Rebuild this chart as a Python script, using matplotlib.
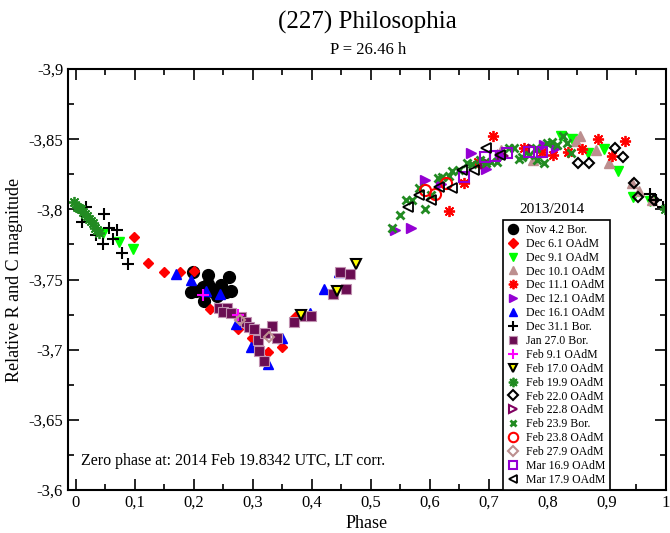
import matplotlib
matplotlib.use('Agg')
import matplotlib.pyplot as plt
from matplotlib.ticker import MultipleLocator, FuncFormatter

plt.rcParams['font.family'] = ['Liberation Serif', 'DejaVu Serif']

# phase / relative magnitude for each session
nov04_ph = [0.195, 0.203, 0.215, 0.223, 0.230, 0.239, 0.245, 0.254, 0.259, 0.262, 0.217, 0.198, 0.223]
nov04_mag = [-3.741, -3.742, -3.745, -3.747, -3.742, -3.738, -3.746, -3.741, -3.752, -3.742, -3.735, -3.755, -3.753]

dec06_ph = [0.098, 0.122, 0.149, 0.176, 0.200, 0.227, 0.274, 0.299, 0.325, 0.350, 0.372]
dec06_mag = [-3.780, -3.762, -3.755, -3.755, -3.756, -3.729, -3.715, -3.708, -3.698, -3.702, -3.723]

dec09_ph = [0.046, 0.073, 0.096, 0.822, 0.841, 0.868, 0.895, 0.919, 0.944, 0.973]
dec09_mag = [-3.783, -3.777, -3.772, -3.852, -3.850, -3.840, -3.843, -3.827, -3.809, -3.806]

dec10_ph = [0.721, 0.775, 0.848, 0.854, 0.882, 0.904, 0.942, 0.954, 0.976]
dec10_mag = [-3.842, -3.835, -3.849, -3.852, -3.842, -3.833, -3.819, -3.813, -3.807]

dec11_ph = [0.633, 0.658, 0.682, 0.707, 0.760, 0.790, 0.809, 0.834, 0.858, 0.885, 0.909, 0.931]
dec11_mag = [-3.799, -3.819, -3.834, -3.852, -3.844, -3.841, -3.839, -3.841, -3.843, -3.850, -3.838, -3.849]

dec12_ph = [0.541, 0.567, 0.592, 0.618, 0.670, 0.695, 0.719, 0.794, 0.814]
dec12_mag = [-3.785, -3.787, -3.821, -3.818, -3.840, -3.829, -3.839, -3.846, -3.844]

dec16_ph = [0.169, 0.195, 0.220, 0.244, 0.272, 0.296, 0.325, 0.349, 0.396, 0.420, 0.445]
dec16_mag = [-3.754, -3.750, -3.742, -3.740, -3.718, -3.702, -3.690, -3.708, -3.726, -3.743, -3.755]

dec31_ph = [0.017, 0.047, 0.010, 0.056, 0.069, 0.063, 0.046, 0.078, 0.088, 0.034, 0.973, 0.983, 0.995]
dec31_mag = [-3.802, -3.797, -3.791, -3.787, -3.785, -3.779, -3.775, -3.769, -3.761, -3.782, -3.811, -3.807, -3.802]

jan27_ph = [0.242, 0.256, 0.249, 0.262, 0.279, 0.288, 0.294, 0.301, 0.308, 0.333, 0.340, 0.311,
            0.318, 0.369, 0.389, 0.398, 0.435, 0.457, 0.447, 0.464, 0.321]
jan27_mag = [-3.730, -3.730, -3.727, -3.726, -3.723, -3.720, -3.716, -3.715, -3.707, -3.717, -3.708, -3.699,
             -3.692, -3.720, -3.724, -3.724, -3.740, -3.743, -3.755, -3.754, -3.712]

feb09_ph = [0.215, 0.274]
feb09_mag = [-3.739, -3.725]

feb17_ph = [0.381, 0.443, 0.475]
feb17_mag = [-3.725, -3.742, -3.761]

feb19_ph = [-0.003, 0.002, 0.005, 0.008, 0.012, 0.015, 0.019, 0.022, 0.025, 0.029, 0.032, 0.036, 0.039, 0.998]
feb19_mag = [-3.805, -3.802, -3.801, -3.800, -3.798, -3.797, -3.795, -3.793, -3.792, -3.790, -3.787, -3.785, -3.783, -3.800]

feb22_ph = [0.851, 0.870, 0.914, 0.927, 0.946, 0.953, 0.980]
feb22_mag = [-3.833, -3.833, -3.844, -3.837, -3.819, -3.809, -3.807]

feb228_ph = [0.695, 0.723, 0.777]
feb228_mag = [-3.833, -3.838, -3.842]

feb239_ph = [0.536, 0.550, 0.560, 0.570, 0.582, 0.591, 0.602, 0.614, 0.621, 0.633, 0.638, 0.650,
             0.662, 0.672, 0.684, 0.695, 0.704, 0.714, 0.734, 0.743, 0.751, 0.756, 0.768, 0.780,
             0.782, 0.794, 0.799, 0.807, 0.816, 0.826, 0.832, 0.839]
feb239_mag = [-3.787, -3.796, -3.807, -3.807, -3.815, -3.800, -3.810, -3.822, -3.823, -3.824, -3.827, -3.828,
              -3.833, -3.832, -3.835, -3.833, -3.834, -3.834, -3.844, -3.844, -3.836, -3.837, -3.839, -3.844,
              -3.835, -3.833, -3.847, -3.848, -3.846, -3.852, -3.847, -3.840]

feb238_ph = [0.592, 0.609, 0.628]
feb238_mag = [-3.814, -3.811, -3.819]

feb27_ph = [0.278, 0.327]
feb27_mag = [-3.721, -3.709]

mar16_ph = [0.658, 0.694, 0.711, 0.731, 0.768, 0.790]
mar16_mag = [-3.823, -3.837, -3.838, -3.840, -3.841, -3.841]

mar17_ph = [0.562, 0.582, 0.601, 0.616, 0.638, 0.655, 0.675, 0.695, 0.719]
mar17_mag = [-3.802, -3.810, -3.807, -3.816, -3.815, -3.828, -3.828, -3.844, -3.839]

fig = plt.figure(figsize=(6.7, 5.33), dpi=100)
ax = fig.add_axes([0.1015, 0.0807, 0.8925, 0.7898])

star = (8, 2, 0)
series = [
    ("Nov 4.2 Bor.", nov04_ph, nov04_mag, dict(marker='o', color='black', ms=8.5)),
    ("Dec 6.1 OAdM", dec06_ph, dec06_mag, dict(marker='D', color='red', ms=5.5)),
    ("Dec 9.1 OAdM", dec09_ph, dec09_mag, dict(marker='v', color='#00ff00', ms=7)),
    ("Dec 10.1 OAdM", dec10_ph, dec10_mag, dict(marker='^', color='#bc8f8f', ms=7)),
    ("Dec 11.1 OAdM", dec11_ph, dec11_mag, dict(marker=star, color='red', ms=8, mew=1.3)),
    ("Dec 12.1 OAdM", dec12_ph, dec12_mag, dict(marker='>', color='#9400d3', ms=7)),
    ("Dec 16.1 OAdM", dec16_ph, dec16_mag, dict(marker='^', color='blue', ms=7)),
    ("Dec 31.1 Bor.", dec31_ph, dec31_mag, dict(marker='+', color='black', ms=8, mew=1.5)),
    ("Jan 27.0 Bor.", jan27_ph, jan27_mag, dict(marker='s', color='#6a0d52', mec='#c090b0', ms=7, mew=0.8)),
    ("Feb 9.1 OAdM", feb09_ph, feb09_mag, dict(marker='+', color='magenta', ms=8, mew=1.5)),
    ("Feb 17.0 OAdM", feb17_ph, feb17_mag, dict(marker='v', color='yellow', mec='black', ms=7, mew=1.5)),
    ("Feb 19.9 OAdM", feb19_ph, feb19_mag, dict(marker=star, color='#228b22', ms=8, mew=1.3)),
    ("Feb 22.0 OAdM", feb22_ph, feb22_mag, dict(marker='D', color='black', mfc='none', ms=5.5, mew=1.5)),
    ("Feb 22.8 OAdM", feb228_ph, feb228_mag, dict(marker='>', color='#800060', mfc='none', ms=7, mew=1.5)),
    ("Feb 23.9 Bor.", feb239_ph, feb239_mag, dict(marker='x', color='#228b22', ms=5.5, mew=2)),
    ("Feb 23.8 OAdM", feb238_ph, feb238_mag, dict(marker='o', color='red', mfc='none', ms=8, mew=1.5)),
    ("Feb 27.9 OAdM", feb27_ph, feb27_mag, dict(marker='D', color='#bc8f8f', mfc='none', ms=5.5, mew=1.5)),
    ("Mar 16.9 OAdM", mar16_ph, mar16_mag, dict(marker='s', color='#9400d3', mfc='none', ms=7, mew=1.5)),
    ("Mar 17.9 OAdM", mar17_ph, mar17_mag, dict(marker='<', color='black', mfc='none', ms=7, mew=1.3)),
]

for label, ph, mag, style in series:
    ax.plot(ph, mag, linestyle='none', label=label, **style)

ax.set_xlim(-0.0135, 1.0)
ax.set_ylim(-3.6, -3.9)
ax.xaxis.set_major_locator(MultipleLocator(0.1))
ax.xaxis.set_minor_locator(MultipleLocator(0.05))
ax.yaxis.set_major_locator(MultipleLocator(0.05))
ax.yaxis.set_minor_locator(MultipleLocator(0.025))
comma = FuncFormatter(lambda v, p: ('%g' % round(v, 3)).replace('.', ','))
ax.xaxis.set_major_formatter(comma)
ax.yaxis.set_major_formatter(comma)
ax.tick_params(which='both', direction='in', top=True, right=True, labelsize=12, width=1.2)
ax.tick_params(which='major', length=8)
ax.tick_params(which='minor', length=4.5)
for s in ax.spines.values():
    s.set_linewidth(1.5)

ax.set_xlabel("Phase", fontsize=13, labelpad=3)
ax.set_ylabel("Relative R and C magnitude", fontsize=13, labelpad=4)
fig.text(0.549, 0.958, "(227) Philosophia", ha='center', va='center', fontsize=18)
fig.text(0.549, 0.906, "P = 26.46 h", ha='center', va='center', fontsize=12)

ax.text(0.008, -3.618, "Zero phase at: 2014 Feb 19.8342 UTC, LT corr.", fontsize=11.5)

leg = ax.legend(loc='lower left', bbox_to_anchor=(0.728, 0.0), fontsize=8.5, labelspacing=0.16,
                handlelength=1.0, handletextpad=0.6, borderpad=0.35, borderaxespad=0,
                fancybox=False, framealpha=1, edgecolor='black', numpoints=1, markerscale=0.85)
leg.get_frame().set_linewidth(1.2)
ax.text(0.81, 0.652, "2013/2014", transform=ax.transAxes, ha='center', va='bottom', fontsize=11)

fig.savefig('out.png', dpi=100)
